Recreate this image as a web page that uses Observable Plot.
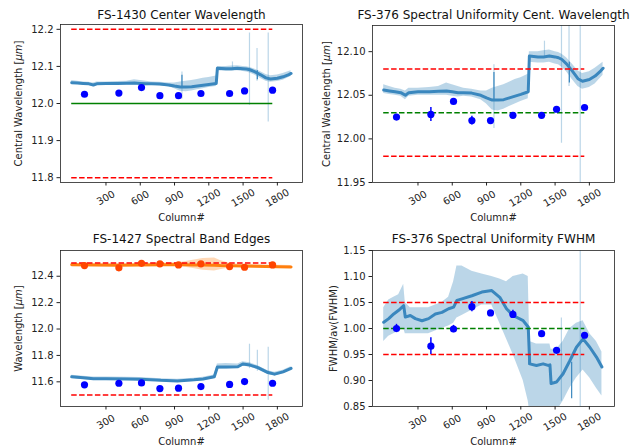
<!DOCTYPE html>
<html>
<head>
<meta charset="utf-8">
<script src="https://cdn.jsdelivr.net/npm/d3@7"></script>
<script src="https://cdn.jsdelivr.net/npm/@observablehq/plot@0.6"></script>
<style>
  html, body { margin: 0; padding: 0; background: #fff; }
  #chart { position: relative; width: 638px; height: 448px; overflow: hidden; background: #fff; }
</style>
</head>
<body>
<div id="chart"></div>
<script>
// ---------- data ----------
const xTicks = [300, 600, 900, 1200, 1500, 1800];
const limitStart = 0, limitEnd = 1760;

// measured points (filled circles)
const dotCols = [112, 413, 611, 772, 935, 1131, 1382, 1513, 1758];
const centerDots = [12.025, 12.028, 12.043, 12.021, 12.021, 12.027, 12.027, 12.034, 12.036];
const centerErr  = [0.002, 0.008, 0.002, 0.005, 0.002, 0.002, 0.001, 0.002, 0.002];
const lowEdgeDots = [11.577, 11.589, 11.592, 11.549, 11.552, 11.564, 11.580, 11.602, 11.589];
const upEdgeDots  = [12.481, 12.464, 12.498, 12.494, 12.486, 12.494, 12.473, 12.468, 12.486];
const fwhmDots = [1.000, 0.966, 0.999, 1.042, 1.030, 1.027, 0.990, 0.958, 0.987];
const fwhmErr  = [0.008, 0.016, 0.007, 0.010, 0.003, 0.008, 0.003, 0.003, 0.005];

// per-column center wavelength profile
const centerCols = [0,50,100,150,190,220,300,400,480,550,600,650,700,770,850,900,950,1000,1050,1100,1150,1200,1265,1275,1350,1400,1450,1500,1530,1560,1600,1650,1700,1740,1800,1850,1900,1920];
const centerMid = [12.056,12.055,12.054,12.053,12.050,12.053,12.054,12.054,12.0545,12.055,12.054,12.053,12.053,12.0525,12.050,12.047,12.0445,12.0445,12.045,12.047,12.049,12.051,12.054,12.095,12.094,12.094,12.095,12.094,12.093,12.091,12.086,12.078,12.069,12.066,12.068,12.072,12.078,12.081];
const centerLo = [12.052,12.051,12.050,12.049,12.045,12.049,12.050,12.050,12.050,12.050,12.049,12.048,12.049,12.048,12.045,12.040,12.033,12.032,12.034,12.037,12.040,12.043,12.046,12.088,12.087,12.087,12.088,12.086,12.085,12.082,12.077,12.068,12.060,12.057,12.059,12.063,12.070,12.073];
const centerHi = [12.062,12.060,12.058,12.057,12.055,12.058,12.058,12.059,12.060,12.064,12.062,12.060,12.058,12.057,12.055,12.055,12.058,12.060,12.062,12.065,12.068,12.070,12.074,12.100,12.100,12.101,12.102,12.100,12.099,12.097,12.093,12.086,12.078,12.075,12.077,12.081,12.086,12.088];
const centerSpikeCols = [965, 1407, 1556, 1622, 1720];
const centerSpikeLo   = [12.012, 12.094, 11.995, 12.060, 11.950];
const centerSpikeHi   = [12.085, 12.112, 12.190, 12.148, 12.190];
const centerDarkSpikeCols = [965, 1625];
const centerDarkSpikeLo   = [12.044, 12.064];
const centerDarkSpikeHi   = [12.076, 12.088];

// lower band edge profile
const lowCols = [0,100,190,300,480,600,780,925,1070,1150,1248,1275,1350,1454,1498,1560,1630,1718,1776,1850,1920];
const lowMid = [11.638,11.630,11.624,11.624,11.622,11.620,11.611,11.607,11.615,11.622,11.638,11.712,11.712,11.714,11.735,11.727,11.708,11.670,11.658,11.675,11.702];
const lowLo  = [11.625,11.618,11.612,11.613,11.611,11.609,11.600,11.596,11.603,11.610,11.625,11.695,11.698,11.700,11.718,11.712,11.692,11.655,11.645,11.662,11.690];
const lowHi  = [11.650,11.642,11.636,11.636,11.634,11.632,11.623,11.619,11.627,11.635,11.652,11.735,11.738,11.735,11.752,11.744,11.722,11.684,11.672,11.688,11.714];
const lowSpikeCols = [1556, 1625, 1720];
const lowSpikeLo   = [11.700, 11.680, 11.460];
const lowSpikeHi   = [11.885, 11.840, 11.862];

// upper band edge profile
const upCols = [0,200,400,600,800,950,1050,1150,1250,1300,1400,1500,1600,1700,1800,1920];
const upMid = [12.487,12.485,12.484,12.486,12.487,12.488,12.486,12.485,12.484,12.482,12.480,12.478,12.476,12.474,12.472,12.470];
const upLo  = [12.477,12.475,12.474,12.476,12.476,12.474,12.460,12.445,12.440,12.450,12.466,12.466,12.464,12.462,12.460,12.458];
const upHi  = [12.497,12.495,12.494,12.497,12.500,12.505,12.520,12.535,12.538,12.520,12.494,12.490,12.488,12.486,12.484,12.482];

// FWHM profile
const fwCols = [0,44,88,131,175,189,233,277,335,393,452,510,568,612,641,685,772,859,946,1016,1075,1133,1221,1265,1278,1337,1395,1439,1455,1465,1512,1570,1629,1687,1745,1804,1862,1910];
const fwMid = [1.012,1.019,1.028,1.035,1.044,1.022,1.025,1.019,1.015,1.019,1.028,1.031,1.038,1.041,1.054,1.057,1.063,1.070,1.073,1.060,1.038,1.025,1.015,1.003,0.932,0.929,0.932,0.929,0.930,0.894,0.897,0.913,0.938,0.964,0.980,0.964,0.945,0.926];
const fwLo = [0.975,0.985,0.990,0.995,1.000,0.990,0.990,0.990,0.990,0.990,0.995,1.000,1.005,1.010,1.020,1.025,1.035,1.045,1.045,1.010,0.980,0.950,0.900,0.860,0.840,0.840,0.840,0.840,0.840,0.840,0.840,0.860,0.885,0.905,0.920,0.905,0.885,0.870];
const fwHi = [1.040,1.055,1.060,1.065,1.085,1.050,1.040,1.040,1.040,1.040,1.045,1.050,1.060,1.090,1.120,1.120,1.110,1.105,1.100,1.095,1.090,1.100,1.105,1.100,0.975,0.970,0.970,0.970,0.970,0.960,0.960,0.975,1.000,1.010,1.015,0.990,0.975,0.955];
const fwSpikeCols = [1555, 1720];
const fwSpikeLo   = [0.860, 0.850];
const fwSpikeHi   = [1.020, 1.160];
const fwDarkSpikeCols = [1270, 1645];
const fwDarkSpikeLo   = [0.930, 0.865];
const fwDarkSpikeHi   = [1.003, 0.935];

// reference / tolerance levels
const p1Limits = [11.8, 12.2], p1Nominal = [12.0];
const p2Limits = [11.98, 12.08], p2Nominal = [12.03];
const p3Limits = [11.5, 12.5];
const p4Limits = [0.95, 1.05], p4Nominal = [1.0];

// ---------- helpers ----------
const DARK = "#3a87be", LIGHT = "#1f77b4", ORANGE = "#ff7f0e", ORED = "#ff4500";
const xDomain = [-98, 2020];
const profile = (cols, mid, lo, hi) => cols.map((c, i) => ({c, m: mid[i], lo: lo[i], hi: hi[i]}));
const spikes = (cols, lo, hi) => cols.map((c, i) => ({c, lo: lo[i], hi: hi[i]}));
const points = (vals, err) => dotCols.map((c, i) => ({c, v: vals[i], lo: vals[i] - (err ? err[i] : 0), hi: vals[i] + (err ? err[i] : 0)}));

function profileMarks(p, color, lightColor, width) {
  return [
    Plot.areaY(p, {x: "c", y1: "lo", y2: "hi", fill: lightColor, fillOpacity: 0.3, clip: true}),
    Plot.line(p, {x: "c", y: "m", stroke: color, strokeWidth: width, clip: true})
  ];
}
function spikeMarks(s, color, opacity, w) {
  return Plot.ruleX(s, {x: "c", y1: "lo", y2: "hi", stroke: color, strokeOpacity: opacity, strokeWidth: w, clip: true});
}
function limitMarks(levels, color, dashed) {
  return Plot.ruleY(levels, {y: d => d, x1: limitStart, x2: limitEnd, stroke: color, strokeWidth: 1.5,
    strokeDasharray: dashed ? "5.5,2.4" : null});
}
function dotMarks(pts, color, withErr) {
  const m = [];
  if (withErr) m.push(Plot.ruleX(pts, {x: "c", y1: "lo", y2: "hi", stroke: color, strokeWidth: 1.5}));
  m.push(Plot.dot(pts, {x: "c", y: "v", r: 3.6, fill: color, stroke: null}));
  return m;
}

const chart = document.getElementById("chart");
function panel({left, top, ml, mr, mt, mb, yDomain, yTicks, yFmt, title, titleDy, ylabel, ylabelDx, marks}) {
  const svg = Plot.plot({
    width: 319, height: 224,
    marginLeft: ml, marginRight: mr, marginTop: mt, marginBottom: mb,
    style: {fontFamily: "'DejaVu Sans', sans-serif", fontSize: "10px", color: "#222", background: "transparent", overflow: "visible"},
    x: {domain: xDomain},
    y: {domain: yDomain},
    marks: [
      ...marks,
      Plot.frame({stroke: "#222", strokeWidth: 0.8}),
      Plot.axisX({ticks: xTicks, tickRotate: -30, tickSize: 3.5, tickPadding: 12, textAnchor: "middle", lineAnchor: "middle", label: null, tickFormat: d3.format("d")}),
      Plot.axisY({ticks: yTicks, tickFormat: d3.format(yFmt), tickSize: 3.5, tickPadding: 3.5, label: null}),
      Plot.text([title], {text: d => d, frameAnchor: "top", textAnchor: "middle", lineAnchor: "middle", dy: titleDy, fontSize: 12, fill: "#111"}),
      Plot.text([ylabel], {text: d => d, frameAnchor: "left", textAnchor: "middle", lineAnchor: "middle", rotate: -90, dx: ylabelDx, fontSize: 10, fill: "#222"}),
      Plot.text(["Column#"], {text: d => d, frameAnchor: "bottom", textAnchor: "middle", lineAnchor: "middle", dy: 35, fontSize: 10, fill: "#222"})
    ]
  });
  // italic mathtext unit
  d3.select(svg).selectAll("text").filter(function () { return this.textContent.includes("[μm]"); })
    .each(function () {
      const t = d3.select(this);
      const before = this.textContent.split("[μm]")[0];
      t.text(null);
      t.append("tspan").text(before + "[");
      t.append("tspan").attr("font-style", "italic").text("μm");
      t.append("tspan").text("]");
    });
  svg.style.position = "absolute";
  svg.style.left = left + "px";
  svg.style.top = top + "px";
  chart.appendChild(svg);
}

const centerProfile = profile(centerCols, centerMid, centerLo, centerHi);
const centerSpikes = spikes(centerSpikeCols, centerSpikeLo, centerSpikeHi);
const centerDarkSpikes = spikes(centerDarkSpikeCols, centerDarkSpikeLo, centerDarkSpikeHi);
const centerPts = points(centerDots, centerErr);

panel({
  left: 0, top: 0, ml: 60, mr: 17, mt: 24, mb: 42,
  yDomain: [11.787, 12.213], yTicks: [11.8, 11.9, 12.0, 12.1, 12.2], yFmt: ".1f",
  title: "FS-1430 Center Wavelength", titleDy: -9,
  ylabel: "Central Wavelength [μm]", ylabelDx: -42,
  marks: [
    spikeMarks(centerSpikes, LIGHT, 0.3, 1.2),
    ...profileMarks(centerProfile, DARK, LIGHT, 3),
    spikeMarks(centerDarkSpikes, DARK, 1, 1.2),
    limitMarks(p1Limits, "red", true),
    limitMarks(p1Nominal, "green", false),
    ...dotMarks(centerPts, "blue", false)
  ]
});

panel({
  left: 319, top: 0, ml: 53, mr: 24, mt: 25, mb: 42,
  yDomain: [11.95, 12.13], yTicks: [11.95, 12.00, 12.05, 12.10], yFmt: ".2f",
  title: "FS-376 Spectral Uniformity Cent. Wavelength", titleDy: -10,
  ylabel: "Central Wavelength [μm]", ylabelDx: -46,
  marks: [
    spikeMarks(centerSpikes, LIGHT, 0.3, 1.2),
    ...profileMarks(centerProfile, DARK, LIGHT, 3),
    spikeMarks(centerDarkSpikes, DARK, 1, 1.2),
    limitMarks(p2Limits, "red", true),
    limitMarks(p2Nominal, "green", true),
    ...dotMarks(centerPts, "blue", true)
  ]
});

panel({
  left: 0, top: 224, ml: 60, mr: 17, mt: 26, mb: 42,
  yDomain: [11.413, 12.595], yTicks: [11.6, 11.8, 12.0, 12.2, 12.4], yFmt: ".1f",
  title: "FS-1427 Spectral Band Edges", titleDy: -11,
  ylabel: "Wavelength [μm]", ylabelDx: -42,
  marks: [
    spikeMarks(spikes(lowSpikeCols, lowSpikeLo, lowSpikeHi), LIGHT, 0.3, 1.2),
    ...profileMarks(profile(lowCols, lowMid, lowLo, lowHi), DARK, LIGHT, 3),
    ...profileMarks(profile(upCols, upMid, upLo, upHi), ORANGE, ORANGE, 3),
    limitMarks(p3Limits, "red", true),
    ...dotMarks(points(lowEdgeDots), "blue", false),
    ...dotMarks(points(upEdgeDots), ORED, false)
  ]
});

panel({
  left: 319, top: 224, ml: 53, mr: 24, mt: 26, mb: 42,
  yDomain: [0.85, 1.15], yTicks: [0.85, 0.90, 0.95, 1.00, 1.05, 1.10, 1.15], yFmt: ".2f",
  title: "FS-376 Spectral Uniformity FWHM", titleDy: -11,
  ylabel: "FWHM/av(FWHM)", ylabelDx: -39,
  marks: [
    spikeMarks(spikes(fwSpikeCols, fwSpikeLo, fwSpikeHi), LIGHT, 0.3, 1.2),
    ...profileMarks(profile(fwCols, fwMid, fwLo, fwHi), DARK, LIGHT, 3),
    spikeMarks(spikes(fwDarkSpikeCols, fwDarkSpikeLo, fwDarkSpikeHi), DARK, 1, 1.2),
    limitMarks(p4Limits, "red", true),
    limitMarks(p4Nominal, "green", true),
    ...dotMarks(points(fwhmDots, fwhmErr), "blue", true)
  ]
});
</script>
</body>
</html>
